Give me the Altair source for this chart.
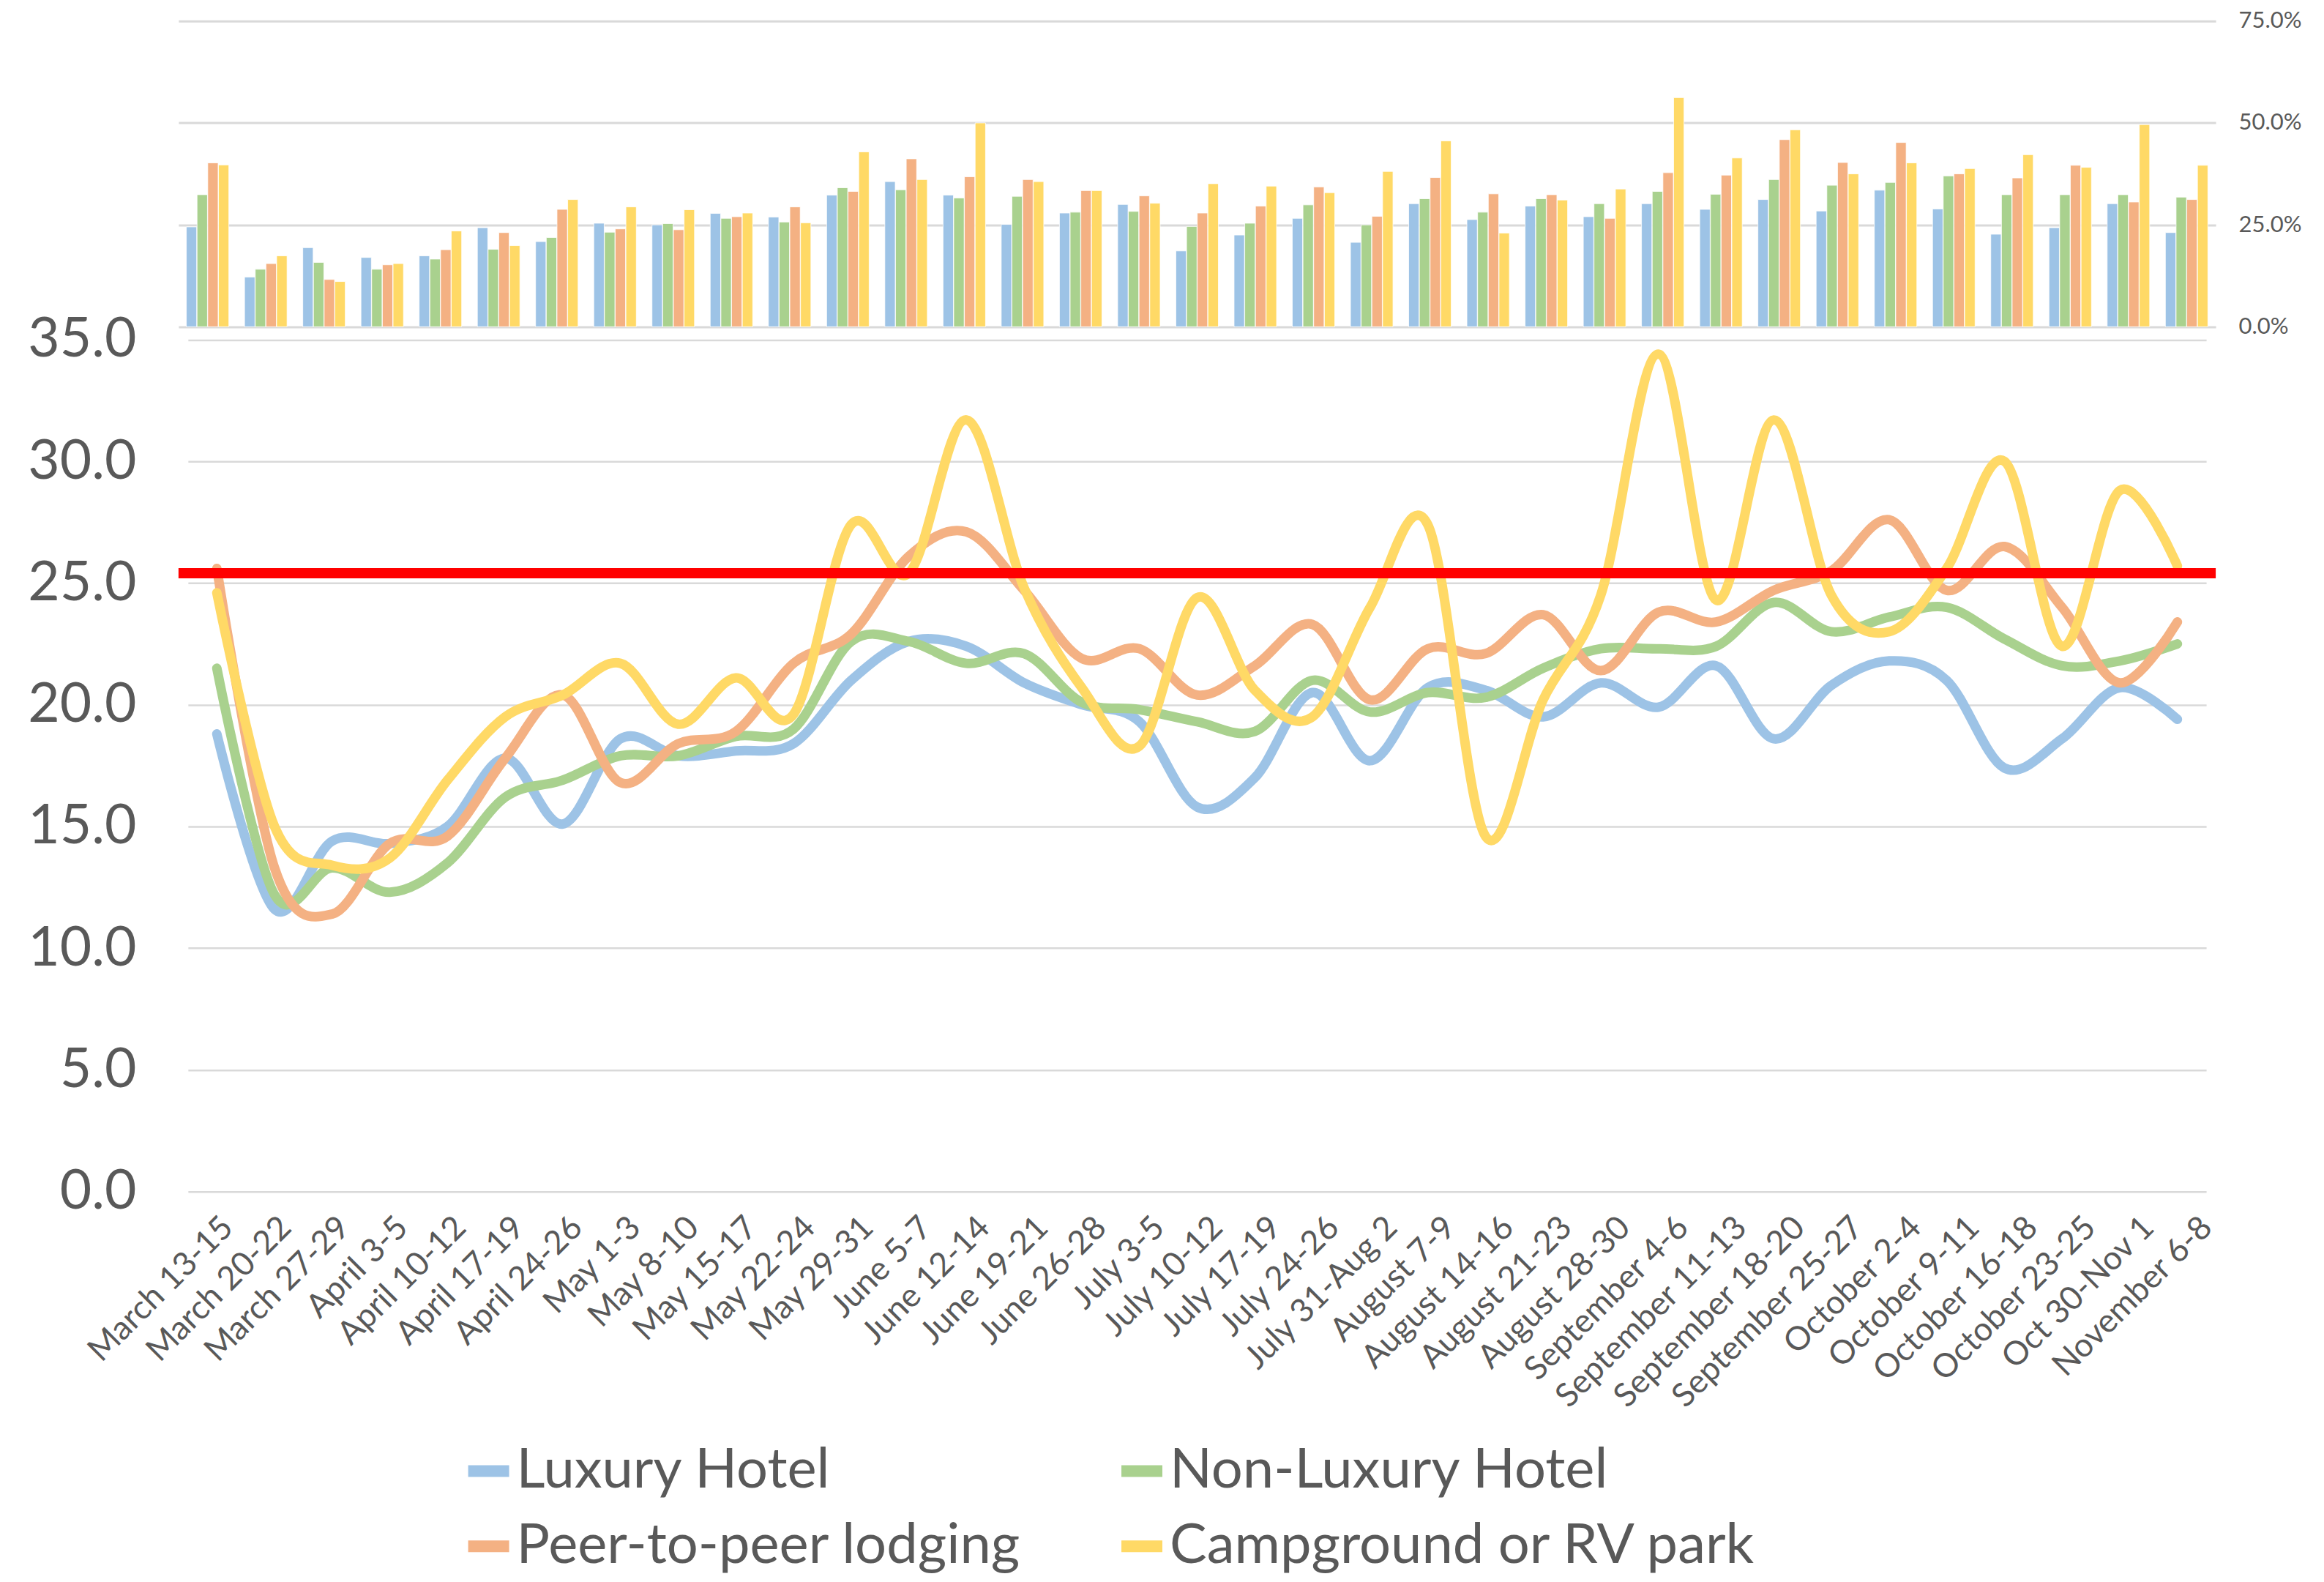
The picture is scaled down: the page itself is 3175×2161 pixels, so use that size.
import altair as alt
import pandas as pd

categories = [
    "March 13-15", "March 20-22", "March 27-29", "April 3-5", "April 10-12",
    "April 17-19", "April 24-26", "May 1-3", "May 8-10", "May 15-17",
    "May 22-24", "May 29-31", "June 5-7", "June 12-14", "June 19-21",
    "June 26-28", "July 3-5", "July 10-12", "July 17-19", "July 24-26",
    "July 31-Aug 2", "August 7-9", "August 14-16", "August 21-23", "August 28-30",
    "September 4-6", "September 11-13", "September 18-20", "September 25-27",
    "October 2-4", "October 9-11", "October 16-18", "October 23-25",
    "Oct 30-Nov 1", "November 6-8",
]

series = ["Luxury Hotel", "Non-Luxury Hotel", "Peer-to-peer lodging", "Campground or RV park"]
colors = ["#9DC3E6", "#A9D18E", "#F4B183", "#FFD966"]

# Line values (left axis)
luxury_line = [18.8, 11.6, 14.4, 14.3, 15.0, 17.8, 15.1, 18.6, 17.9, 18.1, 18.4, 21.0, 22.6, 22.4,
               20.9, 20.0, 19.3, 15.8, 17.0, 20.5, 17.7, 20.7, 20.6, 19.5, 20.9, 19.9, 21.6, 18.6,
               20.8, 21.8, 21.0, 17.4, 18.6, 20.7, 19.4]
nonlux_line = [21.5, 12.2, 13.3, 12.3, 13.5, 16.2, 16.9, 17.9, 17.9, 18.7, 19.0, 22.6, 22.6, 21.7,
               22.1, 20.1, 19.8, 19.3, 18.9, 21.0, 19.7, 20.5, 20.3, 21.5, 22.3, 22.3, 22.4, 24.2,
               23.0, 23.6, 24.0, 22.7, 21.6, 21.8, 22.5]
p2p_line = [25.6, 13.3, 11.4, 14.3, 14.6, 17.8, 20.4, 16.8, 18.4, 18.9, 21.7, 22.9, 26.1, 27.1,
            24.7, 21.9, 22.3, 20.4, 21.6, 23.3, 20.2, 22.3, 22.1, 23.7, 21.4, 23.8, 23.4, 24.7,
            25.5, 27.6, 24.7, 26.5, 24.0, 20.9, 23.4]
camp_line = [24.6, 15.0, 13.4, 13.7, 16.9, 19.5, 20.4, 21.7, 19.2, 21.1, 19.6, 27.4, 25.4, 31.7,
             24.8, 20.7, 18.3, 24.4, 20.6, 19.5, 24.0, 27.4, 14.6, 20.2, 24.5, 34.4, 24.3, 31.7,
             24.5, 23.0, 25.6, 30.0, 22.4, 28.8, 25.7]

# Bar values in percent (right axis)
luxury_bar = [24.5, 12.2, 19.4, 17.0, 17.4, 24.3, 20.9, 25.4, 25.0, 27.8, 26.9, 32.3, 35.6, 32.3,
              25.1, 27.9, 30.0, 18.6, 22.5, 26.6, 20.7, 30.2, 26.3, 29.6, 27.0, 30.2, 28.8, 31.2,
              28.4, 33.5, 28.9, 22.7, 24.3, 30.2, 23.1]
nonlux_bar = [32.4, 14.1, 15.8, 14.1, 16.6, 19.0, 21.9, 23.2, 25.3, 26.6, 25.7, 34.1, 33.6, 31.6,
              32.0, 28.1, 28.3, 24.6, 25.4, 29.9, 25.0, 31.4, 28.1, 31.4, 30.2, 33.2, 32.5, 36.1,
              34.7, 35.4, 37.0, 32.4, 32.4, 32.4, 31.8]
p2p_bar = [40.2, 15.5, 11.6, 15.2, 18.9, 23.1, 28.8, 24.0, 23.8, 27.0, 29.4, 33.2, 41.2, 36.8,
           36.1, 33.4, 32.1, 27.9, 29.6, 34.3, 27.1, 36.6, 32.6, 32.4, 26.6, 37.8, 37.2, 45.9,
           40.3, 45.2, 37.5, 36.5, 39.6, 30.6, 31.2]
camp_bar = [39.7, 17.4, 11.1, 15.5, 23.5, 19.9, 31.2, 29.4, 28.7, 27.9, 25.5, 42.9, 36.1, 50.0,
            35.6, 33.4, 30.3, 35.1, 34.5, 32.9, 38.1, 45.6, 23.0, 31.1, 33.8, 56.2, 41.4, 48.3,
            37.5, 40.2, 38.8, 42.2, 39.1, 49.6, 39.6]

threshold = [25.4]

line_values = [luxury_line, nonlux_line, p2p_line, camp_line]
bar_values = [luxury_bar, nonlux_bar, p2p_bar, camp_bar]

line_rows = []
bar_rows = []
for s, lv, bv in zip(series, line_values, bar_values):
    for i, c in enumerate(categories):
        line_rows.append({"week": c, "series": s, "value": lv[i], "idx": i})
        bar_rows.append({"week": c, "series": s, "share": bv[i] / 100.0})
line_df = pd.DataFrame(line_rows)
bar_df = pd.DataFrame(bar_rows)
rule_df = pd.DataFrame({"y": threshold})

FONT = "Lato"
TXT = "#595959"
GRID = "#D9D9D9"

color_scale = alt.Scale(domain=series, range=colors)
legend = alt.Legend(
    orient="none", legendX=386, legendY=1944, direction="horizontal", columns=2,
    title=None, symbolType="stroke", symbolSize=3136, symbolStrokeWidth=16,
    labelFont=FONT, labelFontSize=76, labelColor=TXT, labelOffset=0, labelLimit=2000,
    columnPadding=105, rowPadding=27,
)

LINE_TOP = 48.09

bars = alt.Chart(bar_df).mark_bar(stroke="white", strokeWidth=0.8).encode(
    x=alt.X("week:N", sort=categories, title=None,
            scale=alt.Scale(paddingInner=0.27, paddingOuter=0.135),
            axis=alt.Axis(labelAngle=-45, labelAlign="right", labelBaseline="top",
                          labelFontSize=45, labelPadding=26, labelOffset=12, labelLimit=1000,
                          labelFont=FONT, labelColor=TXT, grid=False, domain=False, ticks=False)),
    xOffset=alt.XOffset("series:N", sort=series, scale=alt.Scale(paddingInner=0.03)),
    y=alt.Y("share:Q", title=None,
            scale=alt.Scale(domain=[-2.121, 0.75], nice=False),
            axis=alt.Axis(orient="right", values=[0, 0.25, 0.5, 0.75], format=".1%",
                          labelFontSize=31, labelPadding=31, labelFont=FONT, labelColor=TXT,
                          grid=True, gridColor=GRID, gridWidth=3, domain=False, ticks=False)),
    color=alt.Color("series:N", sort=series, scale=color_scale, legend=legend),
)

lines = alt.Chart(line_df).mark_line(
    interpolate="cardinal", strokeWidth=13, strokeCap="round", strokeJoin="round"
).encode(
    x=alt.X("week:N", sort=categories, title=None,
            scale=alt.Scale(type="point", padding=0.5, range=[13, 2772]), axis=None),
    y=alt.Y("value:Q", title=None,
            scale=alt.Scale(domain=[0, LINE_TOP], nice=False),
            axis=alt.Axis(orient="left", values=[0, 5, 10, 15, 20, 25, 30, 35], format=".1f",
                          labelFontSize=75, labelPadding=58, labelFont=FONT, labelColor=TXT,
                          grid=True, gridColor=GRID, gridWidth=2.5, domain=False, ticks=False)),
    color=alt.Color("series:N", sort=series, scale=color_scale, legend=legend),
    order=alt.Order("idx:Q"),
)

rule = alt.Chart(rule_df).mark_rule(color="#FF0000", strokeWidth=14).encode(
    y=alt.Y("y:Q", scale=alt.Scale(domain=[0, LINE_TOP], nice=False), axis=None),
)

chart = alt.layer(bars, lines, rule).resolve_scale(
    y="independent", x="independent"
).properties(
    width=2785, height=1600,
    autosize=alt.AutoSizeParams(type="none"),
    padding={"left": 236, "top": 20, "right": 140, "bottom": 525},
).configure_view(stroke=None)

chart.save("out.html", embed_options={"renderer": "svg", "actions": False})
